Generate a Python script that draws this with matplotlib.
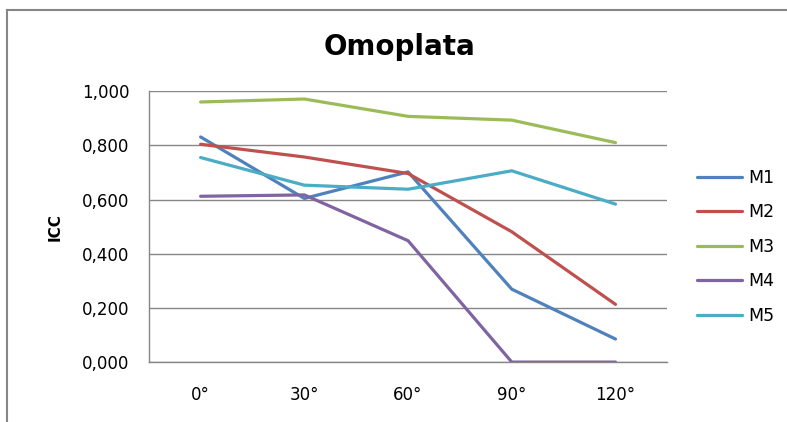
import matplotlib.pyplot as plt
from matplotlib.lines import Line2D
from matplotlib.ticker import FuncFormatter

plt.rcParams['font.family'] = ['DejaVu Sans']

angles = ['0°', '30°', '60°', '90°', '120°']
m1 = [0.831, 0.604, 0.702, 0.269, 0.085]
m2 = [0.804, 0.757, 0.696, 0.481, 0.213]
m3 = [0.960, 0.971, 0.907, 0.893, 0.810]
m4 = [0.612, 0.617, 0.448, 0.000, 0.000]
m5 = [0.755, 0.653, 0.638, 0.706, 0.583]

series = {'M1': m1, 'M2': m2, 'M3': m3, 'M4': m4, 'M5': m5}
colors = {'M1': '#4F81BD', 'M2': '#C0504D', 'M3': '#9BBB59',
          'M4': '#8064A2', 'M5': '#4BACC6'}

fig = plt.figure(figsize=(7.87, 4.22), dpi=100)
ax = fig.add_axes([0.189, 0.142, 0.659, 0.642])

x = list(range(len(angles)))
for name, vals in series.items():
    ax.plot(x, vals, color=colors[name], lw=2.3, label=name,
            solid_capstyle='round', solid_joinstyle='round')

ax.set_xlim(-0.5, len(angles) - 0.5)
ax.set_ylim(0, 1.0)
ax.set_yticks([0, 0.2, 0.4, 0.6, 0.8, 1.0])
ax.yaxis.set_major_formatter(FuncFormatter(lambda v, p: f'{v:.3f}'.replace('.', ',')))
ax.set_xticks(x)
ax.set_xticklabels(angles)
ax.tick_params(axis='both', length=0, labelsize=12, colors='#000000')
ax.tick_params(axis='y', pad=14)
ax.tick_params(axis='x', pad=17)

ax.grid(axis='y', color='#868686', lw=1)
ax.set_axisbelow(True)
for side in ['top', 'right']:
    ax.spines[side].set_visible(False)
for side in ['left', 'bottom']:
    ax.spines[side].set_color('#868686')
    ax.spines[side].set_linewidth(1)

ax.set_ylabel('ICC', fontsize=11, fontweight='bold', labelpad=14)

fig.text(0.508, 0.889, 'Omoplata', fontsize=20, fontweight='bold',
         ha='center', va='center')

ax.legend(loc='center left', bbox_to_anchor=(0.886, 0.415), bbox_transform=fig.transFigure,
          frameon=False, fontsize=12.5, handlelength=2.6, handletextpad=0.35,
          labelspacing=0.95, borderaxespad=0, borderpad=0)

# chart frame
fig.add_artist(Line2D([0.009, 1.0], [0.977, 0.977], color='#868686', lw=1.5,
                      transform=fig.transFigure))
fig.add_artist(Line2D([0.009, 0.009], [0.0, 0.977], color='#868686', lw=1.5,
                      transform=fig.transFigure))

fig.savefig('out.png', dpi=100)
